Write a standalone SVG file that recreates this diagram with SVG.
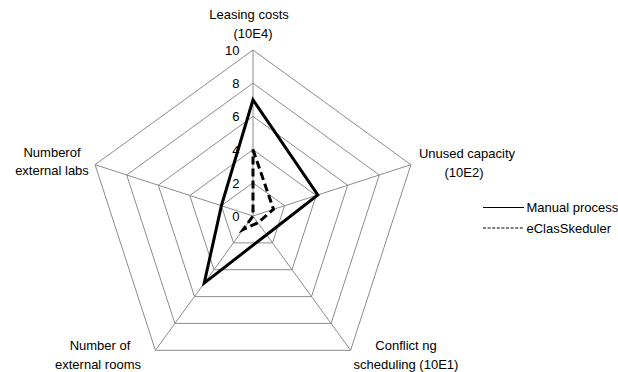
<svg xmlns="http://www.w3.org/2000/svg" width="618" height="372" viewBox="0 0 618 372">
  <style>
    .grid { fill: none; stroke: #8c8c8c; stroke-width: 1; }
    .series { fill: none; stroke: #000; stroke-width: 3; stroke-linejoin: miter; }
    .dash { stroke-dasharray: 8 4; }
    .lbl { font-family: "Liberation Sans", Arial, sans-serif; font-size: 13px; fill: #000; }
    .tick { font-family: "Liberation Sans", Arial, sans-serif; font-size: 13px; fill: #000; text-anchor: end; }
    .mid { text-anchor: middle; }
    .key { fill: none; stroke: #000; stroke-width: 1.2; }
  </style>
  <rect width="618" height="372" fill="#fff"/>

  <!-- radar grid: rings at 2, 4, 6, 8, 10 and five spokes from the centre (253,216) -->
  <g id="grid">
    <polygon class="grid" points="253,182.8 284.6,205.7 272.5,242.9 233.5,242.9 221.4,205.7"/>
    <polygon class="grid" points="253,149.6 316.2,195.5 292,269.7 214,269.7 189.8,195.5"/>
    <polygon class="grid" points="253,116.4 347.7,185.2 311.5,296.6 194.5,296.6 158.3,185.2"/>
    <polygon class="grid" points="253,83.2 379.3,175 331.1,323.4 174.9,323.4 126.7,175"/>
    <polygon class="grid" points="253,50 410.9,164.7 350.6,350.3 155.4,350.3 95.1,164.7"/>
    <line class="grid" x1="253" y1="216" x2="253" y2="50"/>
    <line class="grid" x1="253" y1="216" x2="410.9" y2="164.7"/>
    <line class="grid" x1="253" y1="216" x2="350.6" y2="350.3"/>
    <line class="grid" x1="253" y1="216" x2="155.4" y2="350.3"/>
    <line class="grid" x1="253" y1="216" x2="95.1" y2="164.7"/>
  </g>

  <!-- scale values on the vertical spoke -->
  <g id="ticks">
    <text class="tick" x="239.5" y="54.5">10</text>
    <text class="tick" x="239.5" y="87.5">8</text>
    <text class="tick" x="239.5" y="121">6</text>
    <text class="tick" x="239.5" y="154.5">4</text>
    <text class="tick" x="239.5" y="187.5">2</text>
    <text class="tick" x="239.5" y="220.5">0</text>
  </g>

  <!-- data series -->
  <g id="series">
    <polygon id="manual-process" class="series" points="253,99.8 317.8,195 266.6,234.7 204.2,283.1 221.4,205.7"/>
    <polygon id="eclasskeduler" class="series dash" points="253,149.6 273.5,209.3 257.9,222.7 243.2,229.4 253,216"/>
  </g>

  <!-- axis titles -->
  <g id="axis-leasing">
    <text class="lbl mid" x="249" y="19">Leasing costs</text>
    <text class="lbl mid" x="253" y="37.5">(10E4)</text>
  </g>
  <g id="axis-unused">
    <text class="lbl mid" x="467" y="158">Unused capacity</text>
    <text class="lbl mid" x="464" y="176.5">(10E2)</text>
  </g>
  <g id="axis-conflict">
    <text class="lbl mid" x="406" y="350">Conflict ng</text>
    <text class="lbl mid" x="406" y="368.5">scheduling (10E1)</text>
  </g>
  <g id="axis-rooms">
    <text class="lbl mid" x="100" y="350">Number of</text>
    <text class="lbl mid" x="98" y="368.5">external rooms</text>
  </g>
  <g id="axis-labs">
    <text class="lbl mid" x="52" y="156.5">Numberof</text>
    <text class="lbl mid" x="52" y="175">external labs</text>
  </g>

  <!-- legend -->
  <g id="legend">
    <line class="key" x1="483" y1="207.5" x2="524" y2="207.5"/>
    <text class="lbl" x="526.5" y="212">Manual process</text>
    <line class="key" x1="483" y1="228" x2="524" y2="228" stroke-dasharray="3 1.6"/>
    <text class="lbl" x="526.5" y="232.5">eClasSkeduler</text>
  </g>
</svg>
